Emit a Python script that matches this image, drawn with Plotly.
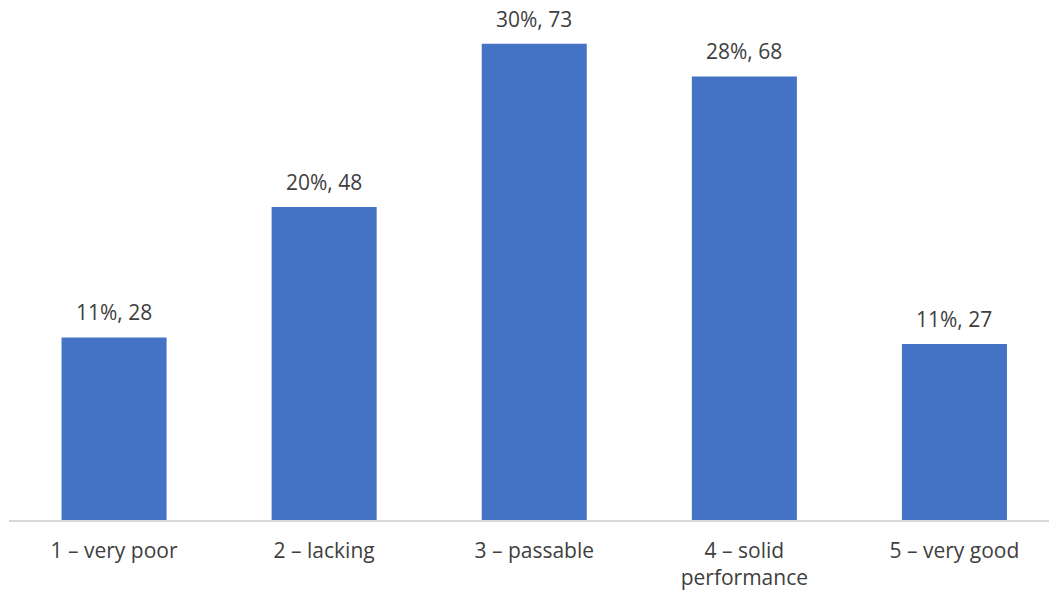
import plotly.graph_objects as go

categories = ["1 – very poor", "2 – lacking", "3 – passable", "4 – solid<br>performance", "5 – very good"]
counts = [28, 48, 73, 68, 27]
percents = [11, 20, 30, 28, 11]

labels = [f"{p}%, {c}" for p, c in zip(percents, counts)]

FONT = "Open Sans"
TXT = "#404040"
FS = 21

fig = go.Figure()
fig.add_trace(go.Bar(
    x=categories, y=counts,
    marker=dict(color="#4472C4", line=dict(width=0)),
    hoverinfo="skip",
))

for cat, val, lab in zip(categories, counts, labels):
    fig.add_annotation(
        x=cat, y=val, text=lab, showarrow=False,
        yanchor="bottom", yshift=9,
        font=dict(family=FONT, size=FS, color=TXT),
    )

fig.update_layout(
    width=1049, height=595,
    margin=dict(l=9, r=0, t=8, b=75),
    paper_bgcolor="white", plot_bgcolor="white",
    bargap=0.5,
    showlegend=False,
    font=dict(family=FONT, size=FS, color=TXT),
    xaxis=dict(
        range=[-0.5, 4.45],
        showline=True, linecolor="#D9D9D9", linewidth=1.5,
        showgrid=False, zeroline=False,
        ticks="outside", ticklen=11, tickcolor="rgba(0,0,0,0)",
        tickfont=dict(family=FONT, size=FS, color=TXT),
        fixedrange=True,
    ),
    yaxis=dict(
        range=[0, 78.5],
        visible=False, showgrid=False, zeroline=False,
        fixedrange=True,
    ),
)

fig.write_html(
    "out.html",
    config={"displayModeBar": False, "staticPlot": True},
    post_script="document.body.style.margin='0';document.body.style.overflow='hidden';",
)
